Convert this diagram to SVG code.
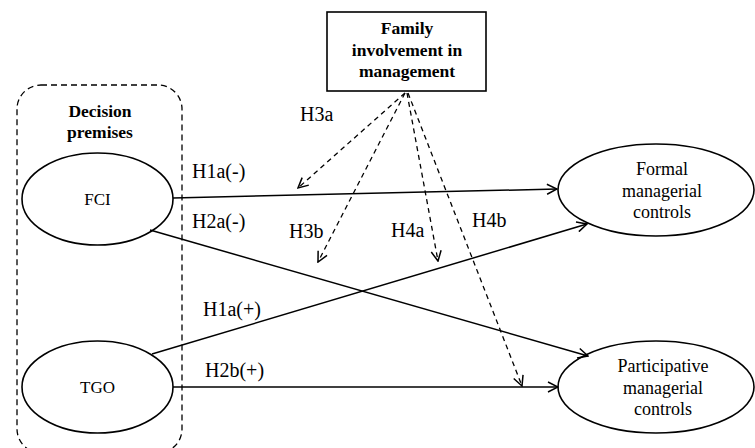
<svg xmlns="http://www.w3.org/2000/svg" width="755" height="448" viewBox="0 0 755 448" font-family="'Liberation Serif', 'Times New Roman', serif">
<defs>
<style>
text{font-family:'Liberation Serif','Times New Roman',serif;fill:#000}
.node{fill:#fff;stroke:#000;stroke-width:1.6}
.t{text-anchor:middle}
.b{font-weight:bold;font-size:17.5px}
.n{font-size:18px}
.lab{font-size:20px}
.solid{stroke:#000;stroke-width:1.5;fill:none}
.dash{stroke:#000;stroke-width:1.3;fill:none;stroke-dasharray:5 4}
</style>
<marker id="arr" markerWidth="12" markerHeight="12" refX="11" refY="6" orient="auto" markerUnits="userSpaceOnUse">
<path d="M1,1 L11,6 L1,11" fill="none" stroke="#000" stroke-width="1.5" stroke-dasharray="none"/>
</marker>
</defs>
<rect width="755" height="448" fill="#fff"/>

<g id="decision-premises">
<rect x="17" y="85" width="165" height="368" rx="24" ry="24" fill="none" stroke="#000" stroke-width="1.3" stroke-dasharray="6 4"/>
<text class="t b" x="100" y="117">Decision</text>
<text class="t b" x="100" y="138">premises</text>
</g>

<g id="family-involvement">
<rect class="node" x="327" y="12" width="159" height="79"/>
<text class="t b" x="407" y="34">Family</text>
<text class="t b" x="407" y="56">involvement in</text>
<text class="t b" x="407" y="77">management</text>
</g>

<g id="fci">
<ellipse class="node" cx="97.5" cy="199" rx="75.5" ry="46"/>
<text class="t" x="97.5" y="205" font-size="17">FCI</text>
</g>

<g id="tgo">
<ellipse class="node" cx="97.5" cy="387" rx="75.5" ry="46"/>
<text class="t" x="97.5" y="393" font-size="17">TGO</text>
</g>

<g id="formal">
<ellipse class="node" cx="656" cy="190" rx="98" ry="46"/>
<text class="t n" x="662" y="175">Formal</text>
<text class="t n" x="662" y="197">managerial</text>
<text class="t n" x="662" y="218">controls</text>
</g>

<g id="participative">
<ellipse class="node" cx="656" cy="387" rx="98" ry="46"/>
<text class="t n" x="663" y="372">Participative</text>
<text class="t n" x="663" y="394">managerial</text>
<text class="t n" x="663" y="415">controls</text>
</g>

<g id="connectors">
<line class="solid" x1="173" y1="198" x2="557" y2="189" marker-end="url(#arr)"/>
<line class="solid" x1="150" y1="230" x2="588" y2="356" marker-end="url(#arr)"/>
<line class="solid" x1="152" y1="354" x2="587" y2="224" marker-end="url(#arr)"/>
<line class="solid" x1="173" y1="387" x2="558" y2="387" marker-end="url(#arr)"/>
<line class="dash" x1="405" y1="93" x2="298" y2="188" marker-end="url(#arr)"/>
<line class="dash" x1="405" y1="93" x2="318" y2="262" marker-end="url(#arr)"/>
<line class="dash" x1="407" y1="93" x2="438" y2="261" marker-end="url(#arr)"/>
<line class="dash" x1="408" y1="93" x2="522" y2="386" marker-end="url(#arr)"/>
</g>

<g id="labels">
<text class="lab" x="300" y="121">H3a</text>
<text class="lab" x="192" y="178">H1a(-)</text>
<text class="lab" x="192" y="228">H2a(-)</text>
<text class="lab" x="289" y="238">H3b</text>
<text class="lab" x="391" y="237">H4a</text>
<text class="lab" x="472" y="227">H4b</text>
<text class="lab" x="203" y="316">H1a(+)</text>
<text class="lab" x="205" y="377">H2b(+)</text>
</g>
</svg>
